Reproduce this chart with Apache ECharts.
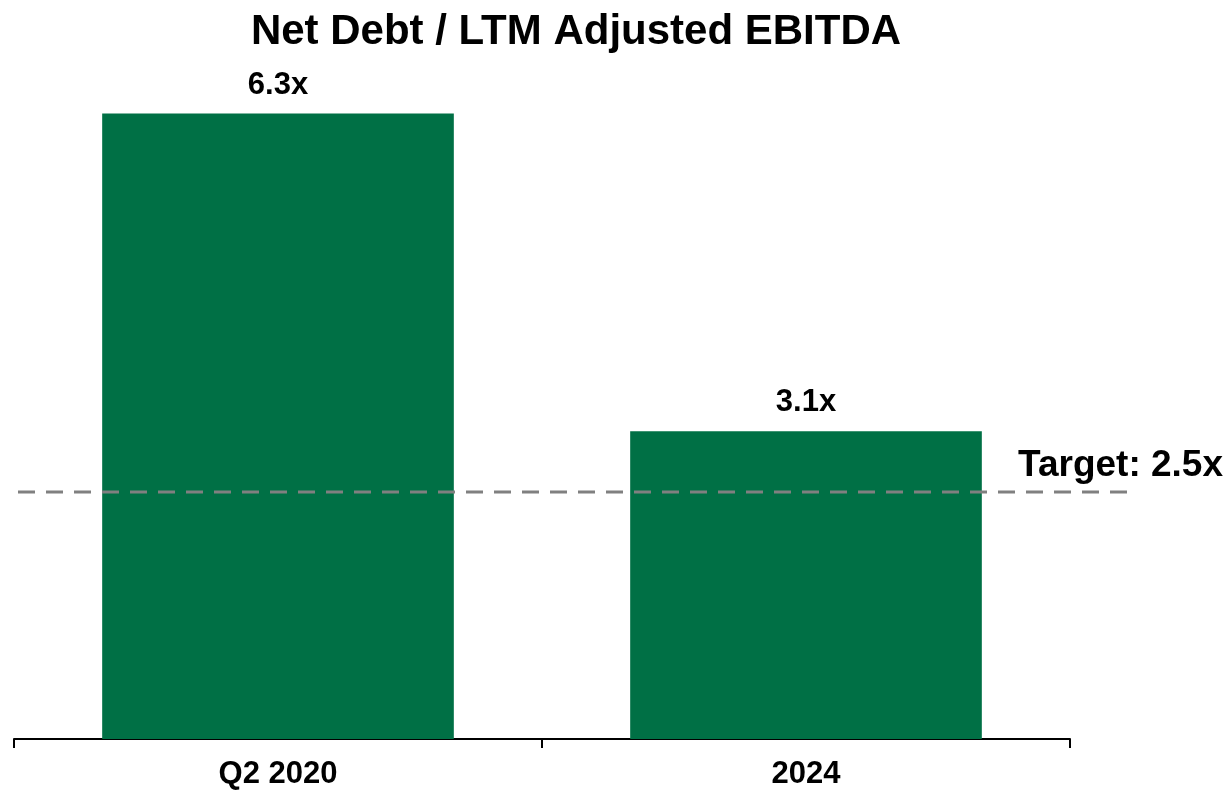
<!DOCTYPE html>
<html>
<head>
<meta charset="utf-8">
<script src="https://cdn.jsdelivr.net/npm/echarts@6/dist/echarts.min.js"></script>
<style>html,body{margin:0;padding:0;background:#fff}#c{width:1232px;height:790px}</style>
</head>
<body>
<div id="c"></div>
<script>
var categories = ['Q2 2020', '2024'];
var ratioValues = [6.3, 3.1];
var targetValue = 2.5;
var targetLabel = 'Target: 2.5x';
var titleText = 'Net Debt / LTM Adjusted EBITDA';

var FONT = '"Liberation Sans", Arial, sans-serif';
var chart = echarts.init(document.getElementById('c'), null, {renderer: 'canvas'});
chart.setOption({
  animation: false,
  backgroundColor: '#ffffff',
  title: {
    text: titleText,
    left: 571, top: 6, textAlign: 'center',
    textStyle: {fontFamily: FONT, fontWeight: 'bold', fontSize: 42, color: '#000'}
  },
  grid: [
    {left: 14, right: 162, top: 44, bottom: 49},
    {left: 18, right: 102, top: 44, bottom: 49}
  ],
  xAxis: [
    {
      type: 'category', data: categories, gridIndex: 0,
      axisLine: {lineStyle: {color: '#000', width: 2}},
      axisTick: {show: true, length: 9, lineStyle: {color: '#000', width: 2}},
      axisLabel: {fontFamily: FONT, fontWeight: 'bold', fontSize: 31, color: '#000', margin: 20}
    },
    {type: 'value', gridIndex: 1, min: 0, max: 1, show: false}
  ],
  yAxis: [
    {type: 'value', gridIndex: 0, min: 0, max: 7, show: false, splitLine: {show: false}},
    {type: 'value', gridIndex: 1, min: 0, max: 7, show: false, splitLine: {show: false}}
  ],
  series: [
    {
      type: 'bar', xAxisIndex: 0, yAxisIndex: 0,
      data: ratioValues,
      barCategoryGap: '33.4%',
      itemStyle: {color: '#007045'},
      label: {
        show: true, position: 'top', distance: 13,
        formatter: function (p) { return p.value.toFixed(1) + 'x'; },
        fontFamily: FONT, fontWeight: 'bold', fontSize: 31, color: '#000'
      },
      z: 2
    },
    {
      type: 'line', xAxisIndex: 1, yAxisIndex: 1,
      data: [[0, targetValue], [1, targetValue]],
      symbol: 'none',
      lineStyle: {color: '#808080', width: 3, type: [17, 11]},
      z: 3,
      endLabel: {
        show: true, formatter: targetLabel,
        fontFamily: FONT, fontWeight: 'bold', fontSize: 37, color: '#000',
        align: 'right', verticalAlign: 'bottom', offset: [85, -8]
      }
    }
  ]
});
</script>
</body>
</html>
